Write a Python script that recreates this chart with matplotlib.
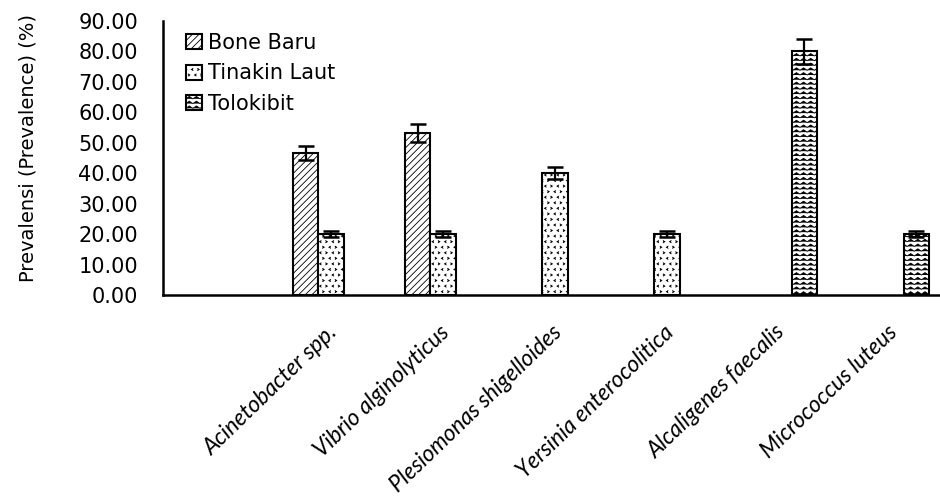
import warnings
import numpy as np
import matplotlib
matplotlib.use("Agg")
import matplotlib.pyplot as plt
import matplotlib.hatch as mhatch
from matplotlib.path import Path
from matplotlib.transforms import ScaledTranslation

warnings.filterwarnings("ignore")

##################### PLOT SETTINGS #####################
font_dict = {'size': 15, 'family': 'DejaVu Sans'}
tick_size = 15
plt.rcParams['hatch.linewidth'] = 0.6
#########################################################

species = ["", "Acinetobacter spp.", "Vibrio alginolyticus", "Plesiomonas shigelloides",
           "Yersinia enterocolitica", "Alcaligenes faecalis", "Micrococcus luteus"]
series_names = ["Bone Baru", "Tinakin Laut", "Tolokibit"]

bone_baru = [0, 46.67, 53.33, 0, 0, 0, 0]
bone_baru_err = [0, 2.3, 3.0, 0, 0, 0, 0]
tinakin_laut = [0, 20.0, 20.0, 40.0, 20.0, 0, 0]
tinakin_laut_err = [0, 1.0, 1.0, 2.0, 1.0, 0, 0]
tolokibit = [0, 0, 0, 0, 0, 80.0, 20.0]
tolokibit_err = [0, 0, 0, 0, 0, 4.0, 1.0]

y_ticks = [0, 10, 20, 30, 40, 50, 60, 70, 80, 90]


# wavy hatch for the Tolokibit bars ('~' in the hatch string)
class WaveHatch(mhatch.HatchPatternBase):
    def __init__(self, hatch, density):
        self.num_rows = int(hatch.count('~') * (density + 1))
        self.num_pts = 29
        self.num_vertices = self.num_rows * self.num_pts

    def set_vertices_and_codes(self, vertices, codes):
        xs = np.linspace(0, 1, self.num_pts)
        zig = np.where(np.arange(self.num_pts) % 2 == 0, -0.012, 0.012)
        for i in range(self.num_rows):
            s = slice(i * self.num_pts, (i + 1) * self.num_pts)
            vertices[s, 0] = xs
            vertices[s, 1] = (i + 0.5) / self.num_rows + zig
            codes[s] = Path.LINETO
            codes[i * self.num_pts] = Path.MOVETO


# small "<" / ">" marks for the Tinakin Laut bars ('>' in the hatch string)
class ChevronHatch(mhatch.HatchPatternBase):
    def __init__(self, hatch, density):
        self.num_rows = int(hatch.count('>') * density)
        self.num_cols = 16
        self.num_vertices = self.num_rows * self.num_cols * 3

    def set_vertices_and_codes(self, vertices, codes):
        k = 0
        dx, dy = 0.008, 0.01
        for i in range(self.num_rows):
            yc = (i + 0.5) / self.num_rows
            for j in range(self.num_cols):
                xc = (j + 0.25 + 0.5 * (i % 2)) / self.num_cols
                sgn = 1 if (i + j) % 2 == 0 else -1
                vertices[k] = (xc - sgn * dx, yc + dy)
                vertices[k + 1] = (xc + sgn * dx, yc)
                vertices[k + 2] = (xc - sgn * dx, yc - dy)
                codes[k] = Path.MOVETO
                codes[k + 1] = Path.LINETO
                codes[k + 2] = Path.LINETO
                k += 3


mhatch._hatch_types.append(WaveHatch)
mhatch._hatch_types.append(ChevronHatch)


fig = plt.figure(figsize=(9.4, 4.99), dpi=100)
ax = fig.add_axes([163 / 940, 1 - 295 / 499, 784 / 940, 274 / 499])

x = np.arange(len(species))
width = 0.226
values = [bone_baru, tinakin_laut, tolokibit]
errors = [bone_baru_err, tinakin_laut_err, tolokibit_err]
hatches = ['/////', '>>>', '~~~']
offsets = [-width, 0, width]

for name, vals, errs, hatch, off in zip(series_names, values, errors, hatches, offsets):
    vals = np.array(vals)
    errs = np.array(errs)
    m = vals > 0
    ax.bar(x[m] + off, vals[m], width, color='white', edgecolor='black', linewidth=1.5,
           hatch=hatch, label=name, zorder=2)
    ax.errorbar(x[m] + off, vals[m], yerr=errs[m], fmt='none', ecolor='black',
                elinewidth=1.6, capsize=5.5, capthick=1.8, zorder=3)

ax.set_xlim(-0.5, len(species) - 0.5)
ax.set_ylim(0, 90)
ax.set_yticks(y_ticks)
ax.set_yticklabels(["%.2f" % t for t in y_ticks], fontsize=tick_size, fontname=font_dict['family'])
ax.set_xticks(x)
ax.set_xticklabels(species, rotation=44, ha='right', va='top', rotation_mode='anchor',
                   fontsize=16.3, family='Lato', style='italic')
ax.tick_params(axis='y', length=0, pad=18)
ax.tick_params(axis='x', length=0, pad=19)
shift = ScaledTranslation(-4 / 100, 0, fig.dpi_scale_trans)
for lab in ax.get_xticklabels():
    lab.set_transform(lab.get_transform() + shift)

for s in ['top', 'right']:
    ax.spines[s].set_visible(False)
for s in ['left', 'bottom']:
    ax.spines[s].set_linewidth(1.8)
ax.set_ylabel("Prevalensi (Prevalence) (%)", fontdict={'size': 14, 'family': 'DejaVu Sans'})
ax.yaxis.set_label_coords(-0.1607, 0.535)

ax.legend(loc='upper left', bbox_to_anchor=(186 / 940, 1 - 33 / 499),
          bbox_transform=fig.transFigure, frameon=False, prop=font_dict,
          handlelength=0.75, handleheight=0.75, handletextpad=0.3,
          labelspacing=0.5, borderpad=0, borderaxespad=0)

fig.savefig("out.png", dpi=100)
